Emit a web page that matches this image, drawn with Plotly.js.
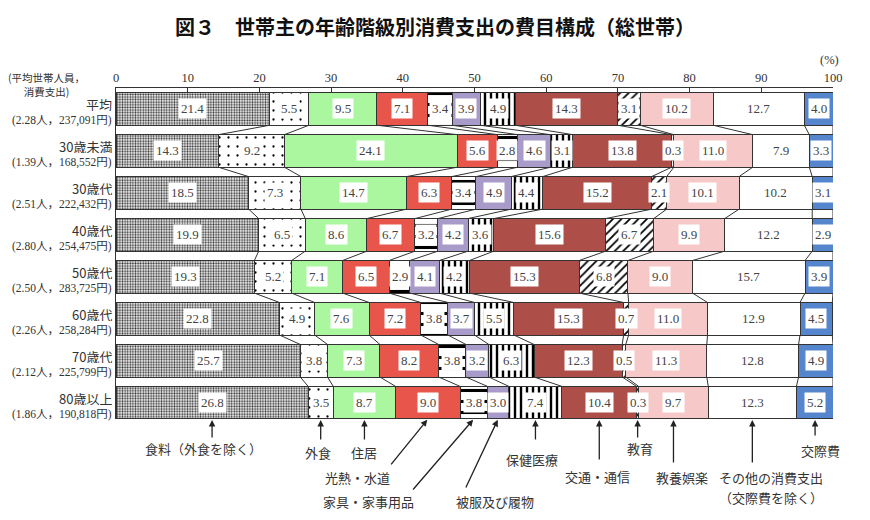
<!DOCTYPE html>
<html>
<head>
<meta charset="utf-8">
<script src="https://cdn.plot.ly/plotly-3.0.1.min.js"></script>
<style>html,body{margin:0;padding:0;background:#fff;}#chart{width:870px;height:520px;}</style>
</head>
<body>
<div id="chart"></div>
<script>
// ---- data ----
const categories = ['平均','30歳未満','30歳代','40歳代','50歳代','60歳代','70歳代','80歳以上'];
const rowInfo = ['(2.28人，237,091円)','(1.39人，168,552円)','(2.51人，222,432円)','(2.80人，254,475円)',
                 '(2.50人，283,725円)','(2.26人，258,284円)','(2.12人，225,799円)','(1.86人，190,818円)'];
const itemNames = ['食料（外食を除く）','外食','住居','光熱・水道','家具・家事用品','被服及び履物',
                   '保健医療','交通・通信','教育','教養娯楽','その他の消費支出（交際費を除く）','交際費'];
const food       = [21.4, 14.3, 18.5, 19.9, 19.3, 22.8, 25.7, 26.8];
const eatingOut  = [5.5, 9.2, 7.3, 6.5, 5.2, 4.9, 3.8, 3.5];
const housing    = [9.5, 24.1, 14.7, 8.6, 7.1, 7.6, 7.3, 8.7];
const fuel       = [7.1, 5.6, 6.3, 6.7, 6.5, 7.2, 8.2, 9.0];
const furniture  = [3.4, 2.8, 3.4, 3.2, 2.9, 3.8, 3.8, 3.8];
const clothing   = [3.9, 4.6, 4.9, 4.2, 4.1, 3.7, 3.2, 3.0];
const medical    = [4.9, 3.1, 4.4, 3.6, 4.2, 5.5, 6.3, 7.4];
const transport  = [14.3, 13.8, 15.2, 15.6, 15.3, 15.3, 12.3, 10.4];
const education  = [3.1, 0.3, 2.1, 6.7, 6.8, 0.7, 0.5, 0.3];
const recreation = [10.2, 11.0, 10.1, 9.9, 9.0, 11.0, 11.3, 9.7];
const other      = [12.7, 7.9, 10.2, 12.2, 15.7, 12.9, 12.8, 12.3];
const social     = [4.0, 3.3, 3.1, 2.9, 3.9, 4.5, 4.9, 5.2];
const xTicks = [0,10,20,30,40,50,60,70,80,90,100];
const bottomLabels = [['食料（外食を除く）'],['外食'],['住居'],['光熱・水道'],['家具・家事用品'],['被服及び履物'],
                      ['保健医療'],['交通・通信'],['教育'],['教養娯楽'],['その他の消費支出','（交際費を除く）'],['交際費']];

const series = [food, eatingOut, housing, fuel, furniture, clothing, medical, transport, education, recreation, other, social];

// ---- styles ----
const LINE = '#333';
const styles = [
  {color:'#fff', pattern:{shape:'.', fgcolor:'#333', bgcolor:'#fff', size:2.6, solidity:0.45}},
  {color:'#fff', pattern:{shape:'.', fgcolor:'#000', bgcolor:'#fff', size:9, solidity:0.05}},
  {color:'#aaf7a0'},
  {color:'#e8554b'},
  {color:'#fff', pattern:{shape:'-', fgcolor:'#000', bgcolor:'#fff', size:11, solidity:0.28}},
  {color:'#a99bc9'},
  {color:'#fff', pattern:{shape:'|', fgcolor:'#000', bgcolor:'#fff', size:6, solidity:0.4}},
  {color:'#ad4f48'},
  {color:'#fff', pattern:{shape:'/', fgcolor:'#000', bgcolor:'#fff', size:6, solidity:0.3}},
  {color:'#f6c8c8'},
  {color:'#fff'},
  {color:'#5585cc'}
];
const BW = 0.776;
const yIdx = categories.map((c,i)=>i);

const traces = series.map((vals,k)=>({
  type:'bar', orientation:'h', name:itemNames[k],
  x: vals, y: yIdx, width: BW,
  marker: Object.assign({line:{color:LINE, width:1}}, styles[k]),
  hoverinfo:'skip', showlegend:false
}));

// cumulative boundaries
const cum = categories.map((c,i)=>{
  const arr=[0]; let s=0;
  series.forEach(v=>{ s+=v[i]; arr.push(Math.min(s,100)); });
  return arr;
});

// connector lines
const cx=[], cy=[];
for(let i=0;i<categories.length-1;i++){
  for(let k=1;k<=series.length;k++){
    cx.push(cum[i][k], cum[i+1][k], null);
    cy.push(i+BW/2, i+1-BW/2, null);
  }
}
traces.push({type:'scatter', mode:'lines', x:cx, y:cy, line:{color:LINE, width:1},
             hoverinfo:'skip', showlegend:false, cliponaxis:false});

const NUMFONT = {family:'Liberation Serif, "Noto Sans CJK JP", serif', size:13, color:'#444'};
const JPFONT = {family:'"Noto Sans CJK JP", sans-serif', size:13, color:'#333'};

const annotations = [];
// value labels
categories.forEach((c,i)=>{
  series.forEach((v,k)=>{
    annotations.push({x: cum[i][k] + v[i]/2, y:i, xref:'x', yref:'y', text: v[i].toFixed(1),
      xanchor:'center', yanchor:'middle',
      showarrow:false, bgcolor:'#fff', borderpad:2, height:15, font:NUMFONT});
  });
  // row labels
  annotations.push({x:0, xref:'paper', y:i, yref:'y', xanchor:'right', yanchor:'middle', xshift:-3, yshift:4,
    height:13, borderpad:0,
    text:c, showarrow:false, font:{family:'"Noto Sans CJK JP", sans-serif', size:13, color:'#333'}});
  annotations.push({x:0, xref:'paper', y:i, yref:'y', xanchor:'right', yanchor:'middle', xshift:-3, yshift:-12,
    height:13, borderpad:0,
    text:rowInfo[i], showarrow:false, font:{family:'Liberation Serif, "Noto Sans CJK JP", serif', size:11.5, color:'#333'}});
});

// header annotations
const px2x = p => (p-116)/717;
const py2y = p => (419-p)/331;
annotations.push({xref:'paper', yref:'paper', x:px2x(46), y:py2y(84), xanchor:'center', yanchor:'middle',
  text:'(平均世帯人員，<br>消費支出)',
  showarrow:false, align:'center', font:{family:'"Noto Sans CJK JP", sans-serif', size:10.5, color:'#333'}});
annotations.push({xref:'paper', yref:'paper', x:px2x(829), y:py2y(60), xanchor:'center', yanchor:'middle',
  text:'(%)', showarrow:false, font:{family:'Liberation Serif, serif', size:12.5, color:'#333'}});

// bottom arrows (tips at segment centres of the last row)
const last = categories.length-1;
const arrowOff = [[0,20],[0,22],[0,22],[-38,47],[-62,72],[-33,70],[0,22],[0,42],[0,20],[0,45],[0,45],[0,18]];
const textPos  = [[203,449],[318,452],[364,452],[357,477],[368,501],[495,501],[532,459],[597,476],[640,449],[682,477],[771,477],[820,450]];
series.forEach((v,k)=>{
  annotations.push({x: cum[last][k] + v[last]/2, y: last + BW/2, xref:'x', yref:'y', text:'',
    showarrow:true, arrowhead:2, arrowsize:1, arrowwidth:1.3, arrowcolor:'#222',
    axref:'pixel', ayref:'pixel', ax:arrowOff[k][0], ay:arrowOff[k][1], standoff:1});
  bottomLabels[k].forEach((line,j)=>{
    annotations.push({xref:'paper', yref:'paper', x:px2x(textPos[k][0]), y:py2y(textPos[k][1] + 20*j),
      xanchor:'center', yanchor:'middle',
      text:line, showarrow:false, align:'center', font:JPFONT});
  });
});

const layout = {
  width:870, height:520,
  margin:{l:116, r:37, t:88, b:101, pad:0},
  paper_bgcolor:'#fff', plot_bgcolor:'#fff',
  barmode:'stack',
  title:{text:'図３　世帯主の年齢階級別消費支出の費目構成（総世帯）', x:0.5, xref:'container',
         y:1-28/520, yref:'container', yanchor:'middle',
         font:{family:'"Noto Sans CJK JP", sans-serif', size:20, weight:'bold', color:'#111'}},
  xaxis:{side:'top', range:[0,100], tickvals:xTicks, ticktext:xTicks.map(String),
         showline:true, linecolor:LINE, linewidth:1, ticks:'inside', ticklen:4, tickcolor:LINE,
         showgrid:false, zeroline:false, fixedrange:true,
         tickfont:{family:'Liberation Serif, serif', size:12.5, color:'#333'}},
  yaxis:{range:[last+BW/2+0.001, -0.5], showticklabels:false, ticks:'', showgrid:false,
         zeroline:false, showline:true, linecolor:LINE, linewidth:1, fixedrange:true},
  annotations: annotations,
  showlegend:false
};

Plotly.newPlot('chart', traces, layout, {displayModeBar:false, staticPlot:true});
</script>
</body>
</html>
